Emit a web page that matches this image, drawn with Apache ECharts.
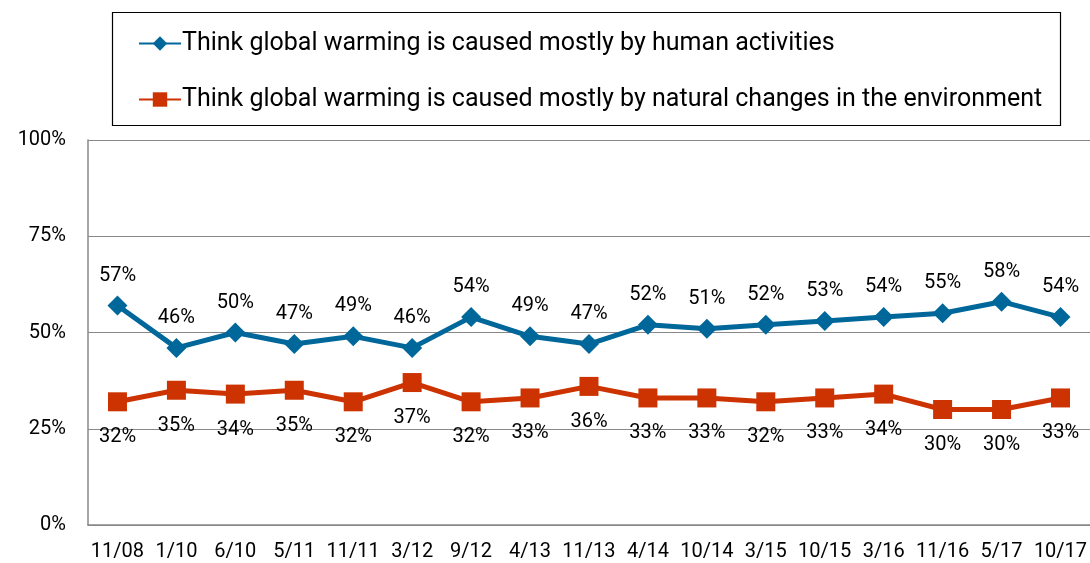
<!DOCTYPE html>
<html>
<head>
<meta charset="utf-8">
<script src="https://cdn.jsdelivr.net/npm/echarts@6/dist/echarts.min.js"></script>
<style>
  html, body { margin: 0; padding: 0; background: #fff; }
  #chart { width: 1090px; height: 563px; }
</style>
</head>
<body>
<div id="chart"></div>
<script>
// survey dates
const categories = ["11/08", "1/10", "6/10", "5/11", "11/11", "3/12", "9/12", "4/13", "11/13",
  "4/14", "10/14", "3/15", "10/15", "3/16", "11/16", "5/17", "10/17"];
const humanValues = [57, 46, 50, 47, 49, 46, 54, 49, 47, 52, 51, 52, 53, 54, 55, 58, 54];
const naturalValues = [32, 35, 34, 35, 32, 37, 32, 33, 36, 33, 33, 32, 33, 34, 30, 30, 33];
const yTicks = [0, 25, 50, 75, 100];

const humanName = "Think global warming is caused mostly by human activities";
const naturalName = "Think global warming is caused mostly by natural changes in the environment";

const font = "Roboto, 'Liberation Sans', sans-serif";

const chart = echarts.init(document.getElementById("chart"));
chart.setOption({
  animation: false,
  textStyle: { fontFamily: font },
  graphic: [
    {
      type: "rect",
      left: 110,
      top: 10,
      shape: { width: 948, height: 113 },
      style: { fill: "none", stroke: "#000", lineWidth: 1.2 },
    },
  ],
  legend: {
    orient: "vertical",
    left: 133,
    top: 26,
    itemGap: 31,
    itemWidth: 42,
    itemHeight: 18,
    textStyle: { fontSize: 25, color: "#000", fontFamily: font, padding: [0, 0, 0, -4] },
    data: [humanName, naturalName],
  },
  grid: {
    left: 88,
    right: -3,
    top: 140,
    bottom: 38,
    show: true,
    borderColor: "#888",
    borderWidth: 0,
  },
  xAxis: {
    type: "category",
    data: categories,
    axisLine: { lineStyle: { color: "#888", width: 1.5 } },
    axisTick: { alignWithLabel: true, length: 6, lineStyle: { color: "#888" } },
    axisLabel: { color: "#000", fontSize: 20, margin: 17, interval: 0 },
  },
  yAxis: {
    type: "value",
    min: 0,
    max: 100,
    interval: 25,
    axisLine: { show: true, lineStyle: { color: "#888", width: 1.5 } },
    axisTick: { show: false },
    axisLabel: {
      color: "#000",
      fontSize: 20,
      margin: 22,
      formatter: (v) => (yTicks.includes(v) ? v + "%" : ""),
    },
    splitLine: { lineStyle: { color: "#888", width: 1.2 } },
  },
  series: [
    {
      name: humanName,
      type: "line",
      data: humanValues,
      symbol: "diamond",
      symbolSize: 20,
      lineStyle: { color: "#00679A", width: 5 },
      itemStyle: { color: "#00679A" },
      label: {
        show: true,
        position: "top",
        distance: 10,
        fontSize: 20,
        color: "#000",
        formatter: "{c}%",
      },
    },
    {
      name: naturalName,
      type: "line",
      data: naturalValues,
      symbol: "rect",
      symbolSize: 19,
      lineStyle: { color: "#CC3300", width: 5 },
      itemStyle: { color: "#CC3300" },
      label: {
        show: true,
        position: "bottom",
        distance: 16,
        fontSize: 20,
        color: "#000",
        formatter: "{c}%",
      },
    },
  ],
});
</script>
</body>
</html>
